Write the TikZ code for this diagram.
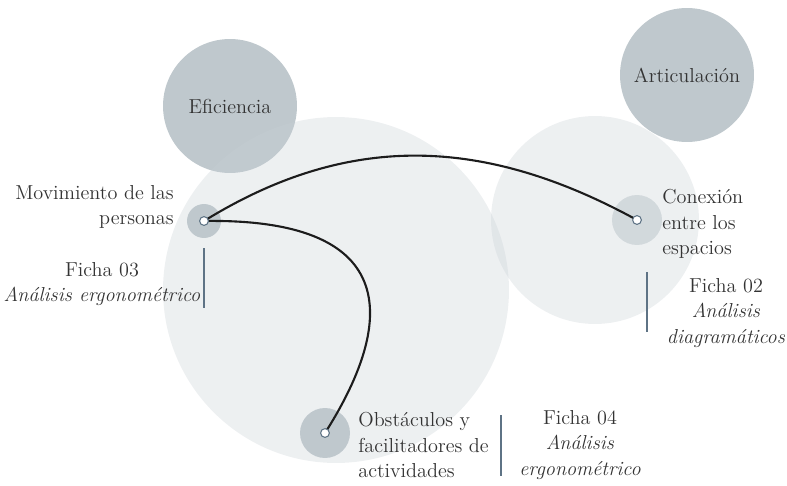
\documentclass[tikz,border=0pt]{standalone}
\usetikzlibrary{positioning}
\definecolor{grisazulado}{HTML}{BFC8CD}
\definecolor{grisfondo}{HTML}{C8D0D5}
\definecolor{pizarra}{HTML}{5E7385}
\definecolor{tinta}{HTML}{1C1C1C}
\definecolor{grisoscuro}{HTML}{333333}
\colorlet{colTema}{grisazulado}
\colorlet{colFondo}{grisfondo}
\colorlet{colBarra}{pizarra}
\colorlet{colEnlace}{tinta}
\colorlet{colTexto}{grisoscuro}
\tikzset{
  textoBase/.style={font=\fontsize{11.5}{14.5}\selectfont, text=colTexto, inner sep=0pt},
  circuloTema/.style={circle, fill=colTema, textoBase, align=center},
  circuloFondo/.style={circle, fill=colFondo, fill opacity=0.32, inner sep=0pt},
  circuloNodo/.style={circle, fill=colTema, inner sep=0pt},
  punto/.style={circle, draw=colBarra, fill=white, line width=0.6pt,
    minimum size=5pt, inner sep=0pt},
  etiqueta/.style={textoBase, align=left},
  ficha/.style={textoBase, align=center},
  barra/.style={line width=1.4pt, colBarra},
  enlace/.style={line width=1.2pt, colEnlace},
}

\begin{document}
\begin{tikzpicture}[x=0.02cm, y=-0.02cm]
  \useasboundingbox (0,0) rectangle (787,486);
  % temas
  \node[circuloTema, minimum size=2.68cm] (efi) at (230,106) {Eficiencia};
  \node[circuloTema, minimum size=2.68cm] (art) at (687,75) {Articulación};
  % fondos
  \node[circuloFondo, minimum size=6.92cm] (fondoIzq) at (336,290) {};
  \node[circuloFondo, minimum size=4.16cm] (fondoDer) at (595,220) {};
  % nodos
  \node[circuloNodo, minimum size=0.68cm] (mov) at (204,221) {};
  \node[circuloNodo, minimum size=1.0cm] (obs) at (325,433) {};
  \node[circuloNodo, fill=colTema!70, minimum size=1.0cm] (con) at (637,220) {};
  % enlaces
  \draw[enlace] (mov.center) .. controls (345,134) and (480,134) .. (con.center);
  \draw[enlace] (mov.center) .. controls (395,218) and (400,315) .. (obs.center);
  \node[punto] (pMov) at (mov.center) {};
  \node[punto] (pObs) at (obs.center) {};
  \node[punto] (pCon) at (con.center) {};
  % etiquetas
  \node[etiqueta, align=right, anchor=east] (tMov) at (174,207) {Movimiento de las\\personas};
  \node[etiqueta, anchor=west] (tCon) at (662,224) {Conexión\\entre los\\espacios};
  \node[etiqueta, anchor=west] (tObs) at (358,445) {Obstáculos y\\facilitadores de\\actividades};
  % fichas
  \node[ficha] (f03) at (102,284) {Ficha 03\\\textit{Análisis ergonométrico}};
  \node[ficha] (f02) at (726,313) {Ficha 02\\\textit{Análisis}\\\textit{diagramáticos}};
  \node[ficha] (f04) at (580,445) {Ficha 04\\\textit{Análisis}\\\textit{ergonométrico}};
  \draw[barra] (204,248) -- (204,308);
  \draw[barra] (647,272) -- (647,332);
  \draw[barra] (501,415) -- (501,476);
\end{tikzpicture}
\end{document}
